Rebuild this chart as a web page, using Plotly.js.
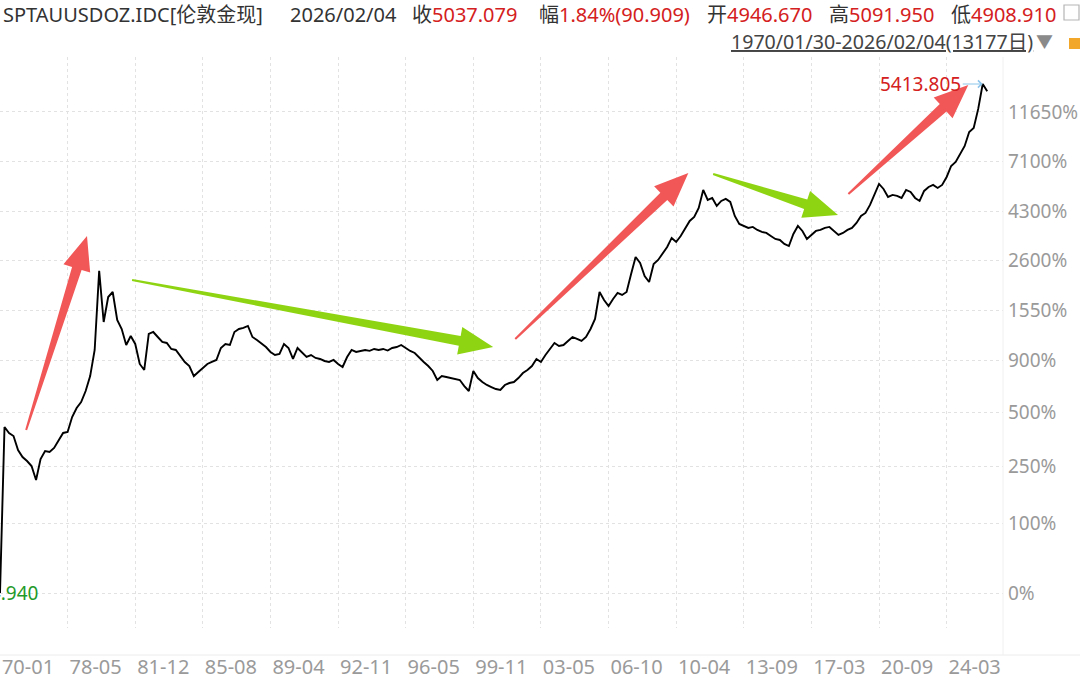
<!DOCTYPE html>
<html><head><meta charset="utf-8">
<script src="https://cdn.plot.ly/plotly-3.0.1.min.js"></script>
<style>html,body{margin:0;padding:0;background:#fff;}#chart{width:1080px;height:679px;}</style>
</head><body><div id="chart"></div>
<script>
// x-axis tick labels (one every 15 samples of the trading-day index axis)
const tickLabels = ['70-01','78-05','81-12','85-08','89-04','92-11','96-05','99-11','03-05','06-10','10-04','13-09','17-03','20-09','24-03'];
const samplesPerTick = 15;

const prices = [
 34.94, 181.0, 170.6, 165.5, 144.1, 134.4, 129.2, 122.9, 107.0, 131.8,
 142.7, 141.3, 147.0, 157.5, 170.6, 172.2, 199.8, 218.5, 231.8, 258.5,
 299.8, 388.2, 850.0, 512.2, 656.2, 689.5, 522.6, 478.0, 408.0, 445.7,
 412.0, 338.0, 318.4, 455.0, 463.9, 441.5, 420.1, 416.1, 392.1, 388.2,
 365.7, 344.6, 331.1, 299.8, 312.1, 324.8, 338.0, 344.6, 351.6, 396.0,
 412.0, 407.8, 463.9, 478.0, 482.8, 492.3, 441.5, 428.6, 412.0, 399.8,
 380.5, 369.3, 373.0, 412.0, 396.0, 355.1, 396.0, 376.8, 362.1, 369.3,
 358.6, 355.1, 348.1, 344.6, 351.6, 338.0, 328.0, 362.1, 388.2, 380.5,
 384.3, 388.2, 385.0, 392.1, 388.2, 392.1, 386.0, 396.0, 399.8, 407.8,
 396.0, 384.3, 376.8, 362.1, 344.6, 331.1, 315.3, 288.3, 299.8, 296.9,
 294.0, 291.2, 288.3, 271.5, 258.5, 315.3, 294.0, 282.6, 274.4, 268.9,
 263.7, 261.1, 274.4, 279.8, 282.6, 294.0, 308.9, 318.4, 331.1, 355.1,
 344.6, 369.3, 392.1, 416.1, 404.0, 407.8, 424.4, 441.5, 432.9, 424.4,
 441.5, 478.0, 527.8, 689.5, 637.1, 600.1, 643.4, 682.8, 669.6, 689.5,
 824.1, 975.5, 919.6, 807.9, 761.4, 910.6, 947.1, 1005.6, 1077.2, 1177.9,
 1131.8, 1201.0, 1300.6, 1393.8, 1450.0, 1585.7, 1895.2, 1716.4, 1750.9, 1617.0,
 1699.4, 1733.5, 1682.6, 1464.6, 1353.3, 1326.6, 1300.6, 1313.6, 1275.0, 1250.0,
 1237.9, 1201.0, 1166.2, 1154.7, 1110.1, 1087.6, 1225.6, 1326.6, 1262.5, 1166.2,
 1213.6, 1262.5, 1275.0, 1300.6, 1313.6, 1262.5, 1213.6, 1237.9, 1275.0, 1300.6,
 1366.9, 1464.6, 1509.3, 1633.8, 1821.6, 2011.5, 1914.0, 1768.0, 1804.0, 1786.0,
 1750.9, 1895.2, 1858.0, 1750.9, 1699.4, 1876.4, 1952.1, 1991.3, 1933.0, 1991.3,
 2155.4, 2403.0, 2500.0, 2708.0, 2930.0, 3367.0, 3503.0, 4229.0, 5413.805, 5037.079
];

// y-axis labels: percentage change from the first price
const percentTicks = [0, 100, 250, 500, 900, 1550, 2600, 4300, 7100, 11650];

// header quote
const symbolName = 'SPTAUUSDOZ.IDC[伦敦金现]';
const quoteDate = '2026/02/04';
const closeVal = '5037.079';
const changeVal = '1.84%(90.909)';
const openVal = '4946.670';
const highVal = '5091.950';
const lowVal = '4908.910';
const periodText = '1970/01/30-2026/02/04(13177日)';
const maxLabel = '5413.805';
const minLabel = '34.940';

// trend arrows: [sample index, price] of tail and tip
const arrows = [
  {from:[5.8, 175.7],   to:[19.3, 1201],  color:'#f25757'},
  {from:[29.3, 776.8],  to:[109.4, 399.8], color:'#8fd412'},
  {from:[114.3, 432.9], to:[152.7, 2243],  color:'#f25757'},
  {from:[158.2, 2221],  to:[185.9, 1479],  color:'#8fd412'},
  {from:[188.2, 1821.6],to:[214.8, 5366],  color:'#f25757'}
];

const FONT = "'Noto Sans', 'Noto Sans CJK SC', sans-serif";
const RED = '#d42020';
const xs = prices.map((_, i) => i);
const base = prices[0];
const tickVals = percentTicks.map(p => base * (1 + p / 100));
const xRange = [0, 222.5];
const yRange = [1.3927, 3.8497];

const M = {l:0, r:77, t:57, b:51};
const W = 1080 - M.l - M.r, H = 679 - M.t - M.b;
const pxX = px => (px - M.l) / W;
const pxY = py => 1 - (py - M.t) / H;

function hdr(text, left, top, size, color) {
  return {xref:'paper', yref:'paper', x:pxX(left), y:pxY(top), xanchor:'left', yanchor:'middle',
    text:text, showarrow:false, borderpad:0, font:{family:FONT, size:size||20, color:color||'#333'}};
}
const red = s => '<span style="color:' + RED + '">' + s + '</span>';

const annotations = [
  hdr(symbolName, 2, 14),
  hdr(quoteDate, 289, 14),
  hdr('收' + red(closeVal), 411, 14),
  hdr('幅' + red(changeVal), 538, 14),
  hdr('开' + red(openVal), 706, 14),
  hdr('高' + red(highVal), 828, 14),
  hdr('低' + red(lowVal), 950, 14),
  hdr('<span style="text-decoration:underline">' + periodText + '</span>', 730, 42, 19.6, '#444'),
  hdr('▼', 1035, 42, 17, '#8a8a8a'),
  {x: prices.length - 2, y: Math.log10(prices[prices.length - 2]), xref:'x', yref:'y',
   text: maxLabel, showarrow:true, ax:-62, ay:0, arrowcolor:'#8cc4ea', arrowwidth:1,
   arrowhead:4, arrowsize:1.4, standoff:0, font:{family:FONT, size:19, color:RED}},
  {x: 0, y: Math.log10(base), xref:'x', yref:'y', text: minLabel, showarrow:false,
   xanchor:'right', yanchor:'middle', xshift:40, font:{family:FONT, size:19, color:'#1f9a2a'}}
];

const trace = {x: xs, y: prices, type:'scatter', mode:'lines',
  line:{color:'#000', width:1.9}, hoverinfo:'skip'};

const layout = {
  width:1080, height:679, margin:M, paper_bgcolor:'#fff', plot_bgcolor:'#fff', showlegend:false,
  xaxis:{range:xRange, tickvals: tickLabels.map((_, k) => k * samplesPerTick), ticktext: tickLabels,
    showgrid:true, gridcolor:'#e2e2e2', griddash:'dot', gridwidth:1, zeroline:false, showline:false,
    ticks:'', tickfont:{family:FONT, size:20, color:'#9a9a9a'}, ticklabelshift:28, ticklabelstandoff:25, fixedrange:true},
  yaxis:{type:'log', side:'right', range:yRange, tickvals: tickVals, ticktext: percentTicks.map(p => p + '%'),
    showgrid:true, gridcolor:'#e2e2e2', griddash:'dot', gridwidth:1, zeroline:false, showline:false,
    ticks:'', tickfont:{family:FONT, size:19, color:'#9a9a9a'}, ticklabelstandoff:4, fixedrange:true},
  annotations: annotations,
  shapes: [
    {type:'line', xref:'paper', yref:'paper', x0:0, x1:1080 / W, y0:pxY(655), y1:pxY(655), line:{color:'#ececec', width:1}},
    {type:'line', xref:'paper', yref:'paper', x0:1, x1:1, y0:pxY(655), y1:1, line:{color:'#f0f0f0', width:1}},
    {type:'rect', xref:'paper', yref:'paper', x0:pxX(1064), x1:pxX(1079), y0:pxY(20), y1:pxY(5), line:{color:'#b5b5b5', width:1.2}, fillcolor:'rgba(0,0,0,0)'},
    {type:'rect', xref:'paper', yref:'paper', x0:pxX(1069), x1:pxX(1080), y0:pxY(49), y1:pxY(38), line:{width:0}, fillcolor:'#f2a62a'}
  ]
};

const gd = document.getElementById('chart');
Plotly.newPlot(gd, [trace], layout, {displayModeBar:false, staticPlot:true}).then(() => {
  const dX = i => M.l + (i - xRange[0]) / (xRange[1] - xRange[0]) * W;
  const dY = p => M.t + (yRange[1] - Math.log10(p)) / (yRange[1] - yRange[0]) * H;
  const arrowShapes = arrows.map(a => {
    const x0 = dX(a.from[0]), y0 = dY(a.from[1]), x1 = dX(a.to[0]), y1 = dY(a.to[1]);
    const dx = x1 - x0, dy = y1 - y0, L = Math.hypot(dx, dy);
    const ux = dx / L, uy = dy / L, nx = -uy, ny = ux;
    const hl = 34, hw = 14, nw = 5, tw = 1;
    const Nx = x1 - ux * hl, Ny = y1 - uy * hl;
    const pts = [[x0 + nx * tw, y0 + ny * tw], [Nx + nx * nw, Ny + ny * nw], [Nx + nx * hw, Ny + ny * hw],
      [x1, y1], [Nx - nx * hw, Ny - ny * hw], [Nx - nx * nw, Ny - ny * nw], [x0 - nx * tw, y0 - ny * tw]];
    const path = 'M' + pts.map(p => pxX(p[0]).toFixed(5) + ',' + pxY(p[1]).toFixed(5)).join('L') + 'Z';
    return {type:'path', xref:'paper', yref:'paper', path:path, fillcolor:a.color, line:{width:0}, layer:'above'};
  });
  Plotly.relayout(gd, {shapes: layout.shapes.concat(arrowShapes)});
});
</script>
</body></html>
